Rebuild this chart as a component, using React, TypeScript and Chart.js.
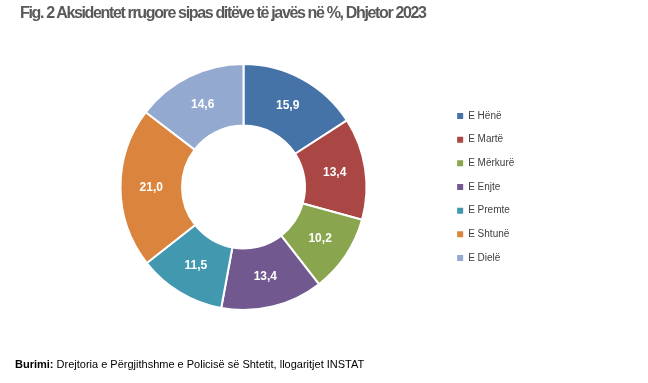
import React, { useEffect, useRef } from 'react';
import { Chart, registerables } from 'chart.js';

Chart.register(...registerables);

const TITLE = 'Fig. 2 Aksidentet rrugore sipas ditëve të javës në %, Dhjetor 2023';
const DAYS = ['E Hënë', 'E Martë', 'E Mërkurë', 'E Enjte', 'E Premte', 'E Shtunë', 'E Dielë'];
const SHARES = [15.9, 13.4, 10.2, 13.4, 11.5, 21.0, 14.6];
const COLORS = ['#4572A7', '#AA4643', '#89A54E', '#71588F', '#4198AF', '#DB843D', '#93A9CF'];
const SOURCE_LABEL = 'Burimi:';
const SOURCE_TEXT = ' Drejtoria e Përgjithshme e Policisë së Shtetit, llogaritjet INSTAT';

const FONT = '"Liberation Sans", Arial, sans-serif';

const fmt = (v: number) => v.toFixed(1).replace('.', ',');

const sliceLabels = {
  id: 'sliceLabels',
  afterDatasetsDraw(chart: any) {
    const { ctx } = chart;
    const meta = chart.getDatasetMeta(0);
    const data = chart.data.datasets[0].data as number[];
    ctx.save();
    ctx.font = 'bold 12px ' + FONT;
    ctx.fillStyle = '#ffffff';
    ctx.textAlign = 'center';
    ctx.textBaseline = 'middle';
    meta.data.forEach((arc: any, i: number) => {
      const p = arc.tooltipPosition(false);
      ctx.fillText(fmt(data[i]), p.x, p.y);
    });
    ctx.restore();
  },
};

export default function App() {
  const ref = useRef<HTMLCanvasElement | null>(null);

  useEffect(() => {
    if (!ref.current) return;
    const baseGen = (Chart as any).overrides.doughnut.plugins.legend.labels.generateLabels;
    const chart = new Chart(ref.current, {
      type: 'doughnut',
      data: {
        labels: DAYS,
        datasets: [
          {
            data: SHARES,
            backgroundColor: COLORS,
            borderColor: '#ffffff',
            borderWidth: 2,
          },
        ],
      },
      options: {
        responsive: false,
        animation: false,
        cutout: '50%',
        layout: { padding: { left: 43.5, right: 124.5, top: 63, bottom: 72 } },
        plugins: {
          legend: {
            position: 'right',
            align: 'center',
            maxWidth: 80,
            labels: {
              boxWidth: 6,
              boxHeight: 6,
              padding: 13.67,
              color: '#404040',
              font: { size: 10, family: FONT },
              generateLabels: (c: any) =>
                baseGen(c).map((l: any) => ({ ...l, lineWidth: 0, strokeStyle: l.fillStyle })),
            },
          },
          tooltip: { enabled: false },
          title: { display: false },
        },
      } as any,
      plugins: [sliceLabels],
    });
    return () => chart.destroy();
  }, []);

  return (
    <div
      style={{
        position: 'absolute',
        left: 0,
        top: 0,
        width: 648,
        height: 383,
        background: '#ffffff',
        fontFamily: FONT,
        overflow: 'hidden',
      }}
    >
      <canvas
        ref={ref}
        width={648}
        height={383}
        style={{ position: 'absolute', left: 0, top: 0, display: 'block' }}
      />
      <div
        style={{
          position: 'absolute',
          left: 20,
          top: 5,
          fontSize: 16,
          lineHeight: '16px',
          fontWeight: 'bold',
          color: '#595959',
          letterSpacing: '-1.35px',
          whiteSpace: 'nowrap',
        }}
      >
        {TITLE}
      </div>
      <div
        style={{
          position: 'absolute',
          left: 15,
          top: 358.5,
          fontSize: 11,
          lineHeight: '11px',
          color: '#000000',
          letterSpacing: '0px',
          whiteSpace: 'nowrap',
        }}
      >
        <b>{SOURCE_LABEL}</b>
        {SOURCE_TEXT}
      </div>
    </div>
  );
}
